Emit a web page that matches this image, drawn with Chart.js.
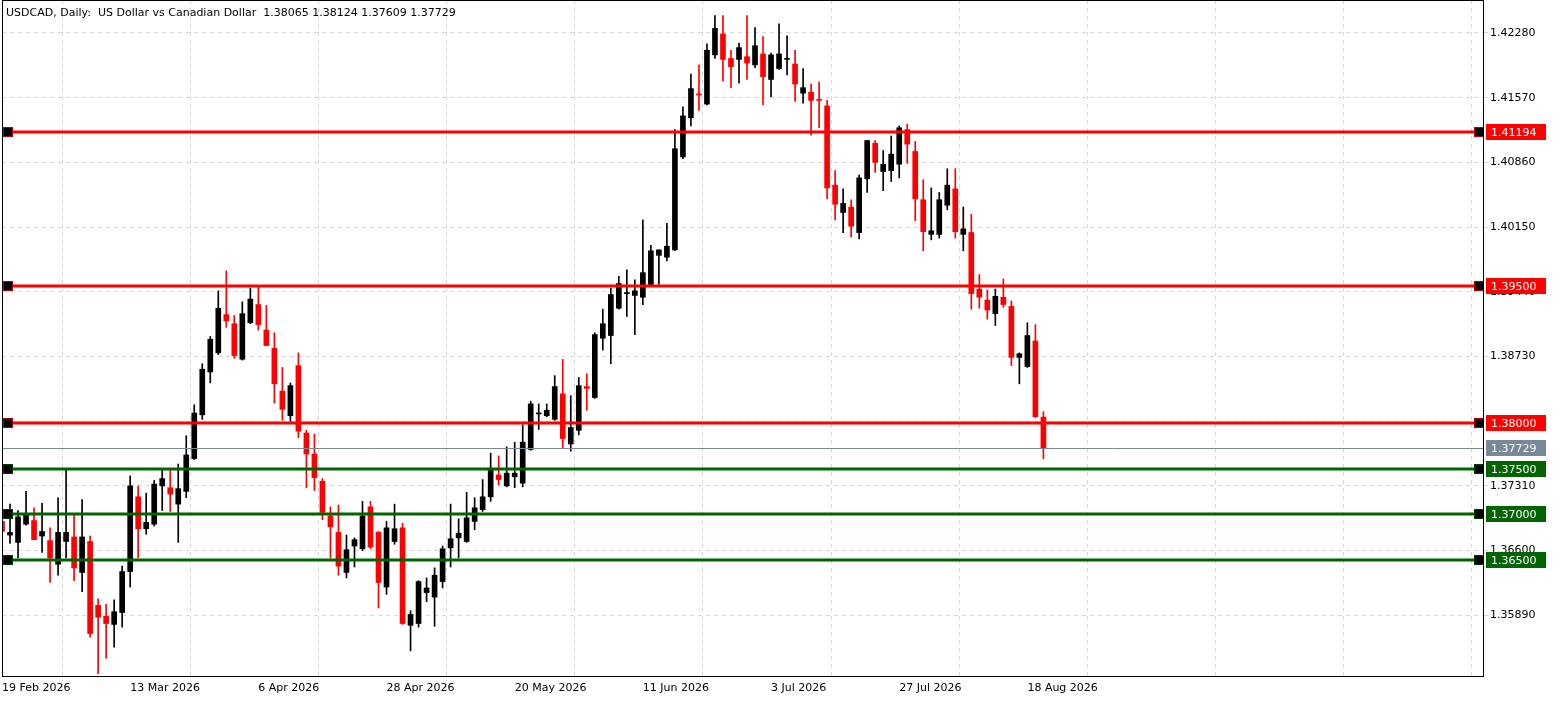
<!DOCTYPE html>
<html>
<head>
<meta charset="utf-8">
<script src="https://cdn.jsdelivr.net/npm/chart.js@4.4.1/dist/chart.umd.min.js"></script>
<style>
  html,body{margin:0;padding:0;background:#fff;}
  #wrap{width:1563px;height:702px;}
</style>
</head>
<body>
<div id="wrap"><canvas id="chart" width="1563" height="702"></canvas></div>
<script>
// daily candles, USDCAD
const openP  = [1.3692,1.3677,1.3669,1.3689,1.3693,1.3676,1.3671,1.3645,1.3670,1.3675,1.3636,1.3670,1.3600,1.3588,1.3579,1.3592,1.3637,1.3719,1.3684,1.3689,
  1.3731,1.3729,1.3711,1.3725,1.3761,1.3809,1.3856,1.3877,1.3919,1.3909,1.3870,1.3910,1.3930,1.3902,1.3882,1.3835,1.3808,1.3863,1.3789,1.3766,
  1.3736,1.3698,1.3680,1.3636,1.3665,1.3662,1.3708,1.3680,1.3620,1.3670,1.3685,1.3578,1.3580,1.3614,1.3609,1.3626,1.3663,1.3674,1.3670,1.3692,
  1.3705,1.3719,1.3743,1.3731,1.3741,1.3734,1.3771,1.3810,1.3808,1.3804,1.3832,1.3777,1.3792,1.3840,1.3828,1.3893,1.3896,1.3926,1.3942,1.3940,
  1.3938,1.3952,1.3984,1.3982,1.3990,1.4092,1.4135,1.4161,1.4150,1.4204,1.4227,1.4200,1.4199,1.4202,1.4193,1.4205,1.4177,1.4189,1.4199,1.4194,
  1.4162,1.4163,1.4155,1.4148,1.4061,1.4031,1.4037,1.4009,1.4068,1.4107,1.4076,1.4077,1.4084,1.4122,1.4098,1.4045,1.4007,1.4007,1.4039,1.4057,
  1.4007,1.4009,1.3947,1.3935,1.3920,1.3938,1.3928,1.3872,1.3862,1.3890,1.38065];
const highP  = [1.3695,1.3711,1.3704,1.3725,1.3707,1.3712,1.3685,1.3718,1.3749,1.3699,1.3716,1.3676,1.3607,1.3601,1.3606,1.3643,1.3742,1.3731,1.3723,1.3737,
  1.3749,1.3749,1.3755,1.3786,1.3820,1.3865,1.3895,1.3945,1.3967,1.3918,1.3933,1.3948,1.3949,1.3929,1.3899,1.3861,1.3844,1.3877,1.3792,1.3788,
  1.3739,1.3708,1.3710,1.3677,1.3674,1.3714,1.3714,1.3681,1.3692,1.3711,1.3690,1.3594,1.3627,1.3630,1.3641,1.3665,1.3711,1.3695,1.3724,1.3718,
  1.3738,1.3767,1.3764,1.3774,1.3779,1.3798,1.3824,1.3821,1.3821,1.3852,1.3870,1.3830,1.3850,1.3854,1.3899,1.3925,1.3948,1.3961,1.3968,1.3957,
  1.4023,1.3995,1.3990,1.4019,1.4122,1.4147,1.4183,1.4193,1.4216,1.4247,1.4247,1.4209,1.4217,1.4247,1.4234,1.4224,1.4206,1.4238,1.4225,1.4209,
  1.4189,1.4172,1.4174,1.4154,1.4077,1.4057,1.4045,1.4072,1.4110,1.4110,1.4099,1.4115,1.4126,1.4128,1.4109,1.4067,1.4058,1.4053,1.4079,1.4079,
  1.4037,1.4029,1.3963,1.3946,1.3947,1.3958,1.3934,1.3877,1.3910,1.3908,1.38124];
const lowP   = [1.3679,1.3668,1.3652,1.3688,1.3672,1.3658,1.3625,1.3633,1.3652,1.3627,1.3615,1.3565,1.3525,1.3542,1.3554,1.3576,1.3620,1.3652,1.3678,1.3687,
  1.3704,1.3703,1.3669,1.3718,1.3760,1.3804,1.3844,1.3875,1.3905,1.3871,1.3869,1.3909,1.3902,1.3885,1.3822,1.3803,1.3802,1.3784,1.3729,1.3726,
  1.3694,1.3652,1.3633,1.3630,1.3642,1.3660,1.3662,1.3597,1.3612,1.3667,1.3579,1.3550,1.3576,1.3604,1.3577,1.3619,1.3642,1.3652,1.3669,1.3683,
  1.3703,1.3714,1.3732,1.3730,1.3729,1.3730,1.3770,1.3793,1.3807,1.3803,1.3772,1.3769,1.3787,1.3814,1.3827,1.3880,1.3865,1.3925,1.3917,1.3897,
  1.3930,1.3951,1.3952,1.3978,1.3989,1.4090,1.4126,1.4143,1.4149,1.4200,1.4175,1.4168,1.4173,1.4177,1.4190,1.4149,1.4158,1.4188,1.4182,1.4153,
  1.4151,1.4116,1.4124,1.4046,1.4023,1.4009,1.4004,1.4002,1.4053,1.4075,1.4055,1.4065,1.4069,1.4085,1.4022,1.3989,1.4001,1.4003,1.4034,1.4003,
  1.3989,1.3925,1.3926,1.3914,1.3907,1.3927,1.3863,1.3843,1.3861,1.3806,1.37609];
const closeP = [1.3681,1.3680,1.3697,1.3699,1.3672,1.3681,1.3652,1.3680,1.3680,1.3641,1.3675,1.3569,1.3587,1.3580,1.3593,1.3637,1.3731,1.3684,1.3691,1.3733,
  1.3739,1.3722,1.3728,1.3765,1.3811,1.3859,1.3892,1.3926,1.3912,1.3874,1.3920,1.3936,1.3908,1.3885,1.3843,1.3815,1.3841,1.3791,1.3766,1.3740,
  1.3702,1.3686,1.3643,1.3661,1.3672,1.3698,1.3664,1.3625,1.3685,1.3684,1.3580,1.3590,1.3626,1.3619,1.3633,1.3662,1.3673,1.3679,1.3696,1.3707,
  1.3719,1.3748,1.3738,1.3745,1.3745,1.3779,1.3821,1.3811,1.3814,1.3840,1.3783,1.3795,1.3841,1.3838,1.3897,1.3909,1.3941,1.3953,1.3943,1.3945,
  1.3965,1.3989,1.3990,1.3994,1.4101,1.4137,1.4167,1.4160,1.4209,1.4233,1.4199,1.4191,1.4212,1.4195,1.4214,1.4180,1.4204,1.4205,1.4200,1.4172,
  1.4168,1.4154,1.4154,1.4058,1.4040,1.4041,1.4016,1.4069,1.4110,1.4086,1.4084,1.4095,1.4124,1.4106,1.4046,1.4010,1.4011,1.4045,1.4061,1.4010,
  1.4013,1.3942,1.3938,1.3924,1.3939,1.3930,1.3872,1.3876,1.3896,1.3807,1.37729];

const yTicks = [1.35890,1.36600,1.37310,1.38020,1.38730,1.39440,1.40150,1.40860,1.41570,1.42280];
const redLevels = [1.41194,1.39500,1.38000];
const greenLevels = [1.37500,1.37000,1.36500];
const lastPrice = 1.37729;
const title = "USDCAD, Daily:  US Dollar vs Canadian Dollar  1.38065 1.38124 1.37609 1.37729";

// trading days from 19 Feb 2026, plus empty room on the right
const MONTHS = ["Jan","Feb","Mar","Apr","May","Jun","Jul","Aug","Sep","Oct","Nov","Dec"];
const slots = 186;
let labels = [];
let d = new Date(2026,1,19);
while(labels.length < slots){
    let wd = d.getDay();
    if(wd!==0 && wd!==6) labels.push(d.getDate()+" "+MONTHS[d.getMonth()]+" "+d.getFullYear());
    d.setDate(d.getDate()+1);
}

let bodies=[], wicks=[], colors=[];
for(let i=0;i<openP.length;i++){
    bodies.push([openP[i],closeP[i]]);
    wicks.push([lowP[i],highP[i]]);
    colors.push(closeP[i]>=openP[i] ? "#000000" : "#ff0000");
}

const FONT = "11px 'DejaVu Sans', sans-serif";

const overlay = {
    id:"overlay",
    afterDatasetsDraw(chart){
        const ctx = chart.ctx, a = chart.chartArea, y = chart.scales.y;
        ctx.save();
        // last price line
        let py = Math.round(y.getPixelForValue(lastPrice))+0.5;
        ctx.strokeStyle="#778899"; ctx.lineWidth=1;
        ctx.beginPath(); ctx.moveTo(a.left,py); ctx.lineTo(a.right,py); ctx.stroke();

        const level = (v,col,border)=>{
            let p = Math.round(y.getPixelForValue(v));
            ctx.strokeStyle=col; ctx.lineWidth=3;
            ctx.beginPath(); ctx.moveTo(a.left,p); ctx.lineTo(a.right,p); ctx.stroke();
            [a.left+6, a.right-5].forEach(x=>{
                ctx.fillStyle="#000"; ctx.fillRect(x-5,p-5,10,10);
                ctx.strokeStyle=border; ctx.lineWidth=1; ctx.strokeRect(x-4.5,p-4.5,9,9);
            });
        };
        redLevels.forEach(v=>level(v,"#ff0000","#b00000"));
        greenLevels.forEach(v=>level(v,"#006400","#004000"));

        // frame
        ctx.strokeStyle="#000"; ctx.lineWidth=1;
        ctx.strokeRect(a.left+0.5,a.top+0.5,a.right-a.left-1,a.bottom-a.top);

        // price boxes on the axis
        const box = (v,bg)=>{
            let p = Math.round(y.getPixelForValue(v));
            ctx.fillStyle=bg; ctx.fillRect(a.right+2,p-8,60,16);
            ctx.fillStyle="#fff"; ctx.font=FONT; ctx.textBaseline="middle"; ctx.textAlign="left";
            ctx.fillText(v.toFixed(5),a.right+7,p+1);
        };
        redLevels.forEach(v=>box(v,"#ff0000"));
        greenLevels.forEach(v=>box(v,"#006400"));
        box(lastPrice,"#778899");

        // title
        ctx.fillStyle="#000"; ctx.font=FONT; ctx.textAlign="left"; ctx.textBaseline="middle";
        ctx.fillText(title,6,13);
        ctx.restore();
    }
};

new Chart(document.getElementById("chart"),{
    type:"bar",
    data:{
        labels:labels,
        datasets:[
            {data:bodies,backgroundColor:colors,barThickness:5,minBarLength:1,order:0,grouped:false},
            {data:wicks,backgroundColor:colors,barThickness:1,order:1,grouped:false}
        ]
    },
    options:{
        responsive:false,
        animation:false,
        devicePixelRatio:1,
        layout:{padding:{left:2,top:0,right:0,bottom:0}},
        plugins:{legend:{display:false},tooltip:{enabled:false}},
        scales:{
            x:{
                offset:false,
                border:{display:false,dash:[4,4]},
                grid:{color:(c)=> (c.index%16===8 ? "#d6d6d6" : "rgba(0,0,0,0)"),tickLength:0,drawTicks:false},
                ticks:{
                    autoSkip:false,maxRotation:0,minRotation:0,align:"start",padding:6,
                    color:"#000",font:{family:"'DejaVu Sans', sans-serif",size:11},
                    callback:(v,i)=> (i%16===0 && i<=128) ? labels[i] : ""
                },
                afterFit:(s)=>{s.height=26;s.paddingLeft=0;s.paddingRight=0;}
            },
            y:{
                position:"right",
                min:1.35224,max:1.42642,
                border:{display:false,dash:[4,4]},
                grid:{color:"#d6d6d6",tickLength:4},
                afterBuildTicks:(s)=>{s.ticks=yTicks.map(v=>({value:v}));},
                ticks:{
                    color:"#000",padding:2,
                    font:{family:"'DejaVu Sans', sans-serif",size:11},
                    callback:(v)=>Number(v).toFixed(5)
                },
                afterFit:(s)=>{s.width=79;s.paddingTop=0;s.paddingBottom=0;}
            }
        }
    },
    plugins:[overlay]
});
</script>
</body>
</html>
